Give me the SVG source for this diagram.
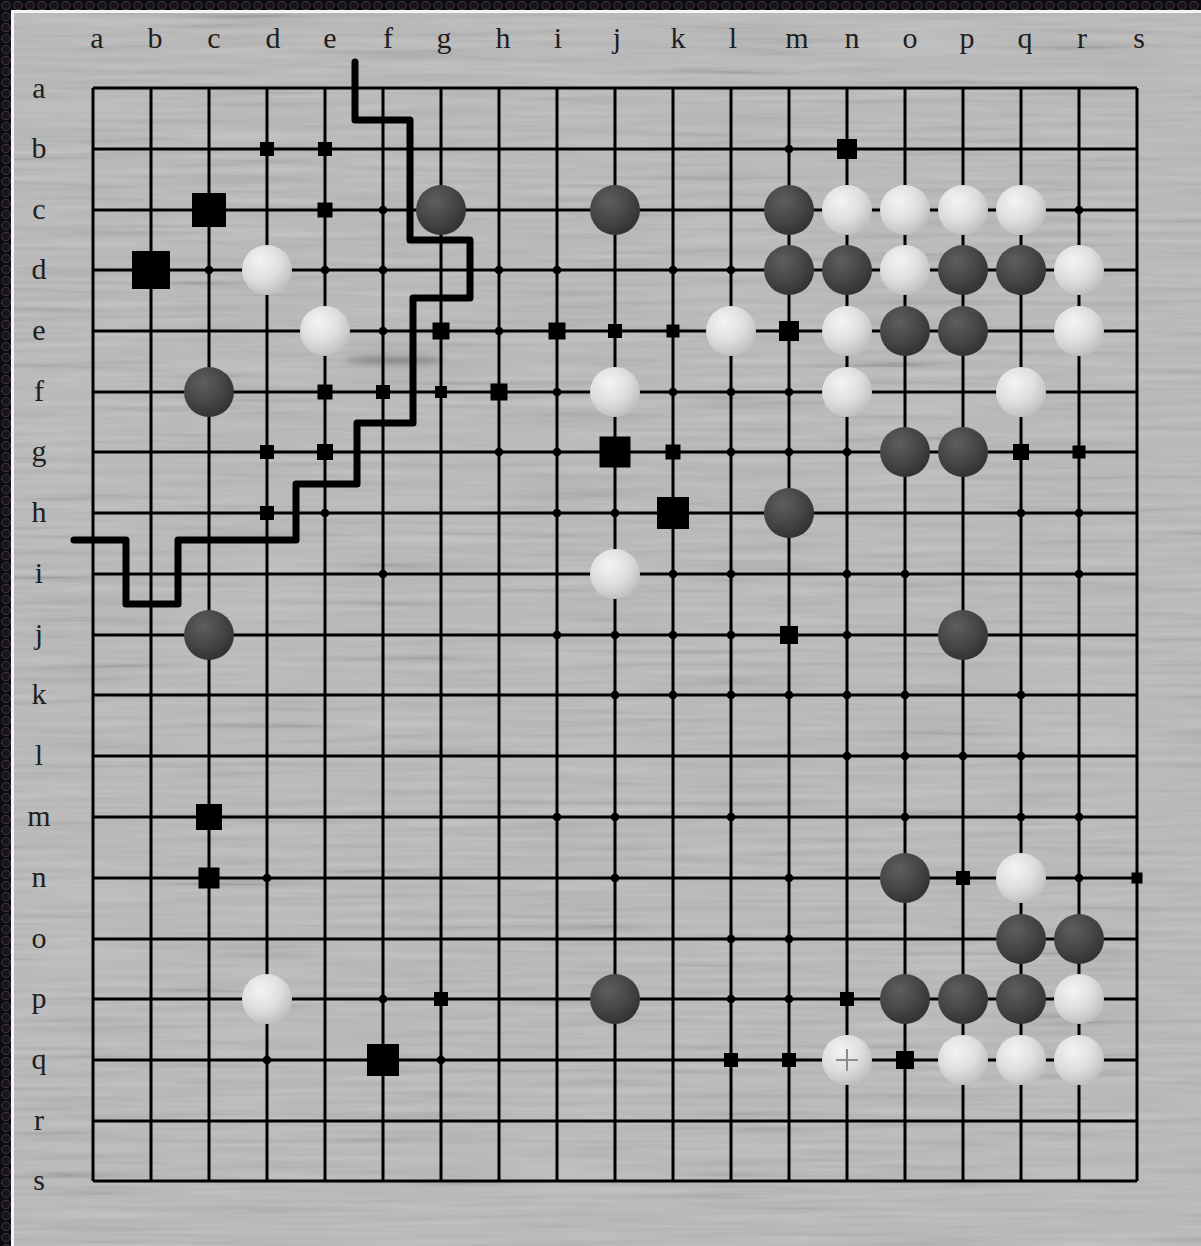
<svg xmlns="http://www.w3.org/2000/svg" xmlns:xlink="http://www.w3.org/1999/xlink" width="1201" height="1246" viewBox="0 0 1201 1246">
<defs>
<pattern id="hex" width="12" height="11" patternUnits="userSpaceOnUse">
<rect width="12" height="11" fill="#0b0b10"/>
<circle cx="6" cy="5.5" r="4.2" fill="#1e1218" stroke="#343a4a" stroke-width="1"/>
</pattern>
<filter id="grain" x="0" y="0" width="1" height="1">
<feTurbulence type="fractalNoise" baseFrequency="0.006 0.16" numOctaves="3" seed="7"/>
<feColorMatrix type="matrix" values="0.33 0.33 0.33 0 0 0.33 0.33 0.33 0 0 0.33 0.33 0.33 0 0 0 0 0 0 1"/>
<feComponentTransfer><feFuncR type="linear" slope="2" intercept="-0.5"/><feFuncG type="linear" slope="2" intercept="-0.5"/><feFuncB type="linear" slope="2" intercept="-0.5"/></feComponentTransfer>
</filter>
<filter id="blur" x="-50%" y="-200%" width="200%" height="500%"><feGaussianBlur stdDeviation="3"/></filter>
<radialGradient id="gb" cx="0.38" cy="0.32" r="0.7">
<stop offset="0" stop-color="#5e5e5e"/>
<stop offset="0.6" stop-color="#454545"/>
<stop offset="1" stop-color="#323232"/>
</radialGradient>
<radialGradient id="gw" cx="0.38" cy="0.32" r="0.72">
<stop offset="0" stop-color="#f4f4f4"/>
<stop offset="0.55" stop-color="#dedede"/>
<stop offset="1" stop-color="#bdbdbd"/>
</radialGradient>
<circle id="dt" r="4.3" fill="#000"/>
<style>
.lbl{font-family:"Liberation Serif","DejaVu Serif",serif;font-size:30px;fill:#1e1e1e;text-anchor:middle}
.grid{stroke:#000;stroke-width:3;fill:none}
.bnd{stroke:#000;stroke-width:7;fill:none;stroke-linejoin:round;stroke-linecap:round}
.b{fill:url(#gb)}
.w{fill:url(#gw)}
.sq{fill:#000}
</style>
</defs>

<!-- frame -->
<rect x="0" y="0" width="1201" height="1246" fill="url(#hex)"/>
<rect x="11" y="10" width="1190" height="1236" fill="#f4f4f4"/>
<rect x="14" y="13" width="1187" height="1233" fill="#bababa"/>
<rect x="14" y="13" width="1187" height="1233" filter="url(#grain)" opacity="0.14"/>
<ellipse cx="395" cy="360" rx="50" ry="4" fill="#555" opacity="0.5" filter="url(#blur)"/>

<!-- labels -->
<g id="col-labels">
<text class="lbl" x="97" y="48">a</text>
<text class="lbl" x="155" y="48">b</text>
<text class="lbl" x="214" y="48">c</text>
<text class="lbl" x="273" y="48">d</text>
<text class="lbl" x="330" y="48">e</text>
<text class="lbl" x="388" y="48">f</text>
<text class="lbl" x="444" y="48">g</text>
<text class="lbl" x="503" y="48">h</text>
<text class="lbl" x="558" y="48">i</text>
<text class="lbl" x="617" y="48">j</text>
<text class="lbl" x="678" y="48">k</text>
<text class="lbl" x="733" y="48">l</text>
<text class="lbl" x="797" y="48">m</text>
<text class="lbl" x="852" y="48">n</text>
<text class="lbl" x="910" y="48">o</text>
<text class="lbl" x="967" y="48">p</text>
<text class="lbl" x="1025" y="48">q</text>
<text class="lbl" x="1082" y="48">r</text>
<text class="lbl" x="1139" y="48">s</text>
</g>
<g id="row-labels">
<text class="lbl" x="39" y="98">a</text>
<text class="lbl" x="39" y="158">b</text>
<text class="lbl" x="39" y="219">c</text>
<text class="lbl" x="39" y="279">d</text>
<text class="lbl" x="39" y="340">e</text>
<text class="lbl" x="39" y="401">f</text>
<text class="lbl" x="39" y="461">g</text>
<text class="lbl" x="39" y="522">h</text>
<text class="lbl" x="39" y="583">i</text>
<text class="lbl" x="39" y="644">j</text>
<text class="lbl" x="39" y="704">k</text>
<text class="lbl" x="39" y="765">l</text>
<text class="lbl" x="39" y="826">m</text>
<text class="lbl" x="39" y="887">n</text>
<text class="lbl" x="39" y="948">o</text>
<text class="lbl" x="39" y="1008">p</text>
<text class="lbl" x="39" y="1069">q</text>
<text class="lbl" x="39" y="1130">r</text>
<text class="lbl" x="39" y="1190">s</text>
</g>

<!-- grid -->
<g id="grid">
<path class="grid" d="M93 88V1181M151 88V1181M209 88V1181M267 88V1181M325 88V1181M383 88V1181M441 88V1181M499 88V1181M557 88V1181M615 88V1181M673 88V1181M731 88V1181M789 88V1181M847 88V1181M905 88V1181M963 88V1181M1021 88V1181M1079 88V1181M1137 88V1181"/>
<path class="grid" d="M93 88H1137M93 149H1137M93 210H1137M93 270H1137M93 331H1137M93 392H1137M93 452H1137M93 513H1137M93 574H1137M93 635H1137M93 695H1137M93 756H1137M93 817H1137M93 878H1137M93 939H1137M93 999H1137M93 1060H1137M93 1121H1137M93 1181H1137"/>
</g>

<!-- small intersection dots -->
<g id="dots">
<use href="#dt" x="789" y="149"/>
<use href="#dt" x="383" y="210"/><use href="#dt" x="1079" y="210"/>
<use href="#dt" x="209" y="270"/><use href="#dt" x="325" y="270"/><use href="#dt" x="383" y="270"/><use href="#dt" x="499" y="270"/><use href="#dt" x="557" y="270"/><use href="#dt" x="673" y="270"/><use href="#dt" x="731" y="270"/>
<use href="#dt" x="383" y="331"/><use href="#dt" x="499" y="331"/>
<use href="#dt" x="557" y="392"/><use href="#dt" x="673" y="392"/><use href="#dt" x="731" y="392"/><use href="#dt" x="789" y="392"/>
<use href="#dt" x="499" y="452"/><use href="#dt" x="557" y="452"/><use href="#dt" x="731" y="452"/><use href="#dt" x="789" y="452"/><use href="#dt" x="847" y="452"/>
<use href="#dt" x="325" y="513"/><use href="#dt" x="557" y="513"/><use href="#dt" x="615" y="513"/><use href="#dt" x="1021" y="513"/><use href="#dt" x="1079" y="513"/>
<use href="#dt" x="383" y="574"/><use href="#dt" x="673" y="574"/><use href="#dt" x="731" y="574"/><use href="#dt" x="847" y="574"/><use href="#dt" x="905" y="574"/><use href="#dt" x="1079" y="574"/>
<use href="#dt" x="557" y="635"/><use href="#dt" x="615" y="635"/><use href="#dt" x="673" y="635"/><use href="#dt" x="731" y="635"/><use href="#dt" x="847" y="635"/>
<use href="#dt" x="615" y="695"/><use href="#dt" x="673" y="695"/><use href="#dt" x="731" y="695"/><use href="#dt" x="789" y="695"/><use href="#dt" x="847" y="695"/><use href="#dt" x="905" y="695"/><use href="#dt" x="1021" y="695"/>
<use href="#dt" x="847" y="756"/><use href="#dt" x="905" y="756"/><use href="#dt" x="963" y="756"/><use href="#dt" x="1021" y="756"/>
<use href="#dt" x="557" y="817"/><use href="#dt" x="615" y="817"/><use href="#dt" x="731" y="817"/><use href="#dt" x="905" y="817"/><use href="#dt" x="1021" y="817"/><use href="#dt" x="1079" y="817"/>
<use href="#dt" x="267" y="878"/><use href="#dt" x="615" y="878"/><use href="#dt" x="789" y="878"/><use href="#dt" x="1079" y="878"/>
<use href="#dt" x="731" y="939"/><use href="#dt" x="789" y="939"/>
<use href="#dt" x="383" y="999"/><use href="#dt" x="731" y="999"/><use href="#dt" x="789" y="999"/>
<use href="#dt" x="267" y="1060"/><use href="#dt" x="441" y="1060"/>
</g>

<!-- square markers -->
<g id="squares">
<rect class="sq" x="260" y="142" width="14" height="14"/>
<rect class="sq" x="318" y="142" width="14" height="14"/>
<rect class="sq" x="317.5" y="202.5" width="15" height="15"/>
<rect class="sq" x="432.5" y="322.5" width="17" height="17"/>
<rect class="sq" x="548.5" y="322.5" width="17" height="17"/>
<rect class="sq" x="608" y="324" width="14" height="14"/>
<rect class="sq" x="666.5" y="324.5" width="13" height="13"/>
<rect class="sq" x="779" y="321" width="20" height="20"/>
<rect class="sq" x="317.5" y="384.5" width="15" height="15"/>
<rect class="sq" x="376" y="385" width="14" height="14"/>
<rect class="sq" x="435" y="386" width="12" height="12"/>
<rect class="sq" x="490.5" y="383.5" width="17" height="17"/>
<rect class="sq" x="260" y="445" width="14" height="14"/>
<rect class="sq" x="317" y="444" width="16" height="16"/>
<rect class="sq" x="665.5" y="444.5" width="15" height="15"/>
<rect class="sq" x="1013" y="444" width="16" height="16"/>
<rect class="sq" x="1072.5" y="445.5" width="13" height="13"/>
<rect class="sq" x="260" y="506" width="14" height="14"/>
<rect class="sq" x="780" y="626" width="18" height="18"/>
<rect class="sq" x="956" y="871" width="14" height="14"/>
<rect class="sq" x="1131.5" y="872.5" width="11" height="11"/>
<rect class="sq" x="434" y="992" width="14" height="14"/>
<rect class="sq" x="840" y="992" width="14" height="14"/>
<rect class="sq" x="724" y="1053" width="14" height="14"/>
<rect class="sq" x="782" y="1053" width="14" height="14"/>
<rect class="sq" x="896" y="1051" width="18" height="18"/>
<rect class="sq" x="192" y="193" width="34" height="34"/>
<rect class="sq" x="132" y="251" width="38" height="38"/>
<rect class="sq" x="599.5" y="436.5" width="31" height="31"/>
<rect class="sq" x="657" y="497" width="32" height="32"/>
<rect class="sq" x="367" y="1044" width="32" height="32"/>
<rect class="sq" x="196" y="804" width="26" height="26"/>
<rect class="sq" x="198.5" y="867.5" width="21" height="21"/>
<rect class="sq" x="837" y="139" width="20" height="20"/>
</g>

<!-- boundary line -->
<g id="connectors">
<path class="bnd" d="M355 62V120H410V240H470V298H413V423H357V484H296V540H178V604H126V540H74"/>
</g>

<!-- black stones -->
<g id="black-stones">
<circle class="b" cx="441" cy="210" r="25"/>
<circle class="b" cx="615" cy="210" r="25"/>
<circle class="b" cx="789" cy="210" r="25"/>
<circle class="b" cx="789" cy="270" r="25"/>
<circle class="b" cx="847" cy="270" r="25"/>
<circle class="b" cx="963" cy="270" r="25"/>
<circle class="b" cx="1021" cy="270" r="25"/>
<circle class="b" cx="905" cy="331" r="25"/>
<circle class="b" cx="963" cy="331" r="25"/>
<circle class="b" cx="209" cy="392" r="25"/>
<circle class="b" cx="905" cy="452" r="25"/>
<circle class="b" cx="963" cy="452" r="25"/>
<circle class="b" cx="789" cy="513" r="25"/>
<circle class="b" cx="209" cy="635" r="25"/>
<circle class="b" cx="963" cy="635" r="25"/>
<circle class="b" cx="905" cy="878" r="25"/>
<circle class="b" cx="1021" cy="939" r="25"/>
<circle class="b" cx="1079" cy="939" r="25"/>
<circle class="b" cx="615" cy="999" r="25"/>
<circle class="b" cx="905" cy="999" r="25"/>
<circle class="b" cx="963" cy="999" r="25"/>
<circle class="b" cx="1021" cy="999" r="25"/>
</g>

<!-- white stones -->
<g id="white-stones">
<circle class="w" cx="847" cy="210" r="25"/>
<circle class="w" cx="905" cy="210" r="25"/>
<circle class="w" cx="963" cy="210" r="25"/>
<circle class="w" cx="1021" cy="210" r="25"/>
<circle class="w" cx="267" cy="270" r="25"/>
<circle class="w" cx="905" cy="270" r="25"/>
<circle class="w" cx="1079" cy="270" r="25"/>
<circle class="w" cx="325" cy="331" r="25"/>
<circle class="w" cx="731" cy="331" r="25"/>
<circle class="w" cx="847" cy="331" r="25"/>
<circle class="w" cx="1079" cy="331" r="25"/>
<circle class="w" cx="615" cy="392" r="25"/>
<circle class="w" cx="847" cy="392" r="25"/>
<circle class="w" cx="1021" cy="392" r="25"/>
<circle class="w" cx="615" cy="574" r="25"/>
<circle class="w" cx="1021" cy="878" r="25"/>
<circle class="w" cx="267" cy="999" r="25"/>
<circle class="w" cx="1079" cy="999" r="25"/>
<circle class="w" cx="963" cy="1060" r="25"/>
<circle class="w" cx="1021" cy="1060" r="25"/>
<circle class="w" cx="1079" cy="1060" r="25"/>
<g id="marked-stone">
<circle class="w" cx="847" cy="1060" r="25"/>
<path d="M836 1060H858M847 1049V1071" stroke="#8c8c8c" stroke-width="2" fill="none"/>
</g>
</g>
</svg>
